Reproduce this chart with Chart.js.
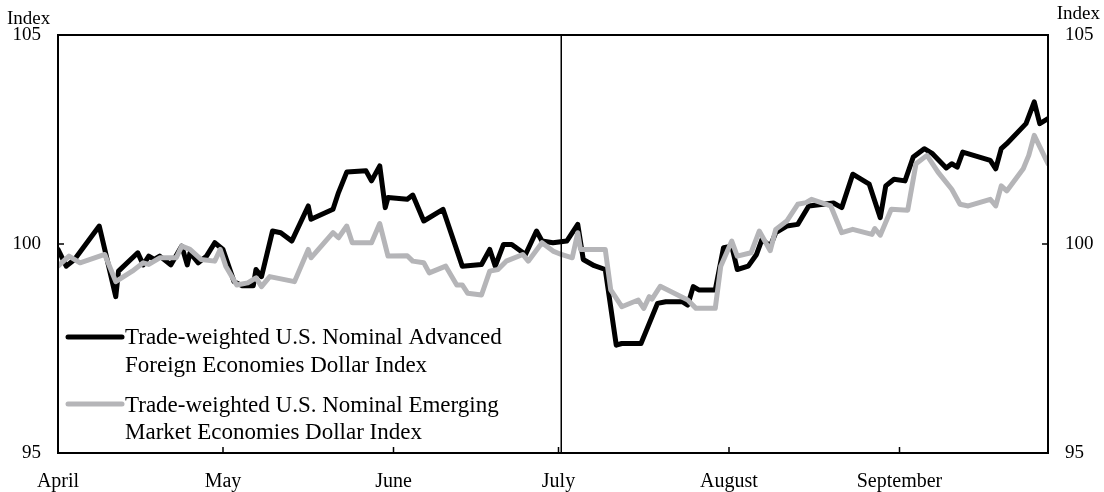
<!DOCTYPE html>
<html>
<head>
<meta charset="utf-8">
<script src="https://cdn.jsdelivr.net/npm/chart.js@4.4.1/dist/chart.umd.min.js"></script>
<style>
  html, body { margin: 0; padding: 0; background: #fff; }
  canvas { display: block; }
</style>
</head>
<body>
<canvas id="dollarChart" width="1104" height="492"></canvas>
<script>
// Month axis: day offsets from April 1 where each month starts
const monthLabels = ['April', 'May', 'June', 'July', 'August', 'September'];
const monthStarts = [0, 30, 61, 91, 122, 153];
const julyMarkerDay = 91.5;

const seriesNames = [
  ['Trade-weighted U.S. Nominal Advanced', 'Foreign Economies Dollar Index'],
  ['Trade-weighted U.S. Nominal Emerging', 'Market Economies Dollar Index']
];

// Advanced foreign economies index (black)
const advDays = [0, 1.5, 3, 7.5, 8.5, 10.5, 11, 14.5, 15.5, 16.5, 17.5, 18.5, 20.5, 22.5, 23.5, 24, 25.5, 27, 28.5, 30,
  32, 33.5, 35.5, 36, 37, 39, 40.5, 42.5, 45.5, 46, 50, 51, 52.5, 56, 57, 58.5, 59.5, 60, 63.5, 64.5,
  66.5, 70, 73.5, 77, 78.5, 79.5, 81, 82.5, 85, 87, 88, 90, 92.5, 94.5, 95.5, 97.5, 99.5, 101.5, 102.5, 106,
  109, 110.5, 113.5, 114.5, 115.5, 116.5, 119.5, 121, 122.5, 123.5, 125.5, 127, 128, 129.5, 130.5, 132.5, 134.5, 136.5, 141, 142.5,
  144.5, 147.5, 148.5, 149.5, 150.5, 152, 154, 155.5, 157.5, 159, 161.5, 162.5, 163.5, 164.5, 169.5, 170.5, 171.5, 172.5, 176, 177.5,
  178.5, 180];
const advValues = [99.87, 99.47, 99.63, 100.43, 99.87, 98.74, 99.35, 99.79, 99.50, 99.71, 99.63, 99.71, 99.50, 99.95, 99.50, 99.79, 99.55, 99.71, 100.03, 99.87,
  99.10, 99.00, 99.00, 99.39, 99.22, 100.31, 100.27, 100.07, 100.91, 100.59, 100.83, 101.23, 101.72, 101.75, 101.51, 101.87, 100.87, 101.11, 101.07, 101.17,
  100.55, 100.83, 99.47, 99.51, 99.87, 99.47, 99.99, 99.99, 99.75, 100.31, 100.07, 100.03, 100.07, 100.47, 99.63, 99.48, 99.39, 97.58, 97.62, 97.62,
  98.58, 98.62, 98.62, 98.54, 98.98, 98.90, 98.90, 99.91, 99.95, 99.39, 99.47, 99.75, 100.11, 99.95, 100.27, 100.43, 100.47, 100.91, 100.98, 100.87,
  101.67, 101.43, 101.03, 100.63, 101.39, 101.55, 101.51, 102.08, 102.28, 102.16, 101.82, 101.92, 101.84, 102.20, 102.00, 101.80, 102.28, 102.40, 102.88, 103.40,
  102.88, 103.00];

// Emerging market economies index (gray)
const emeDays = [0, 2, 4, 8.5, 10.5, 13.5, 15.5, 16.5, 18.5, 21.5, 22.5, 24, 26, 28.5, 29.5, 30.5, 32.5, 34.5, 36, 37,
  38.5, 43, 45.5, 46, 50, 51, 52.5, 53.5, 57, 58.5, 60, 63.5, 64.5, 66.5, 67.5, 70.5, 72.5, 73.5, 74.5, 77,
  78.5, 80, 81.5, 84.5, 85.5, 88, 90, 91.5, 93.5, 94.5, 95, 99.5, 100.5, 102.5, 105.5, 106.5, 107.5, 108, 109.5, 114.5,
  116, 119.5, 120.5, 122.5, 123.5, 126, 127.5, 129.5, 130.5, 132.5, 134.5, 136, 137, 140.5, 142.5, 144.5, 148, 148.5, 149.5, 151.5,
  154.5, 156, 158, 160, 162.5, 164, 165.5, 169.5, 170.5, 171.5, 172.5, 175.5, 176.5, 177.5, 180];
const emeValues = [99.47, 99.71, 99.55, 99.75, 99.10, 99.35, 99.55, 99.51, 99.67, 99.67, 99.95, 99.87, 99.63, 99.59, 99.87, 99.47, 99.02, 99.07, 99.19, 98.98,
  99.22, 99.10, 99.87, 99.67, 100.27, 100.15, 100.43, 100.03, 100.03, 100.49, 99.71, 99.72, 99.59, 99.55, 99.31, 99.47, 99.02, 99.02, 98.82, 98.78,
  99.35, 99.39, 99.59, 99.75, 99.59, 100.03, 99.83, 99.75, 99.67, 100.27, 99.87, 99.87, 98.90, 98.50, 98.66, 98.46, 98.74, 98.68, 98.99, 98.66,
  98.46, 98.46, 99.47, 100.07, 99.71, 99.79, 100.31, 99.84, 100.35, 100.55, 100.95, 100.99, 101.07, 100.91, 100.27, 100.35, 100.23, 100.37, 100.21, 100.83,
  100.81, 101.92, 102.12, 101.72, 101.31, 100.95, 100.91, 101.07, 100.91, 101.39, 101.27, 101.80, 102.12, 102.60, 101.92];

const FONT = 'Liberation Serif';
const BLACK = '#000000';
const GRAY = '#b5b5b8';

// Frame, inner tick marks, July marker, "Index" labels and the two-line legend
const decorPlugin = {
  id: 'decor',
  afterDatasetsDraw(chart) {
    const { ctx, chartArea: a, scales } = chart;
    ctx.save();
    ctx.strokeStyle = '#000';
    ctx.lineWidth = 1.5;
    const mx = scales.x.getPixelForValue(julyMarkerDay);
    ctx.beginPath();
    ctx.moveTo(mx, a.top);
    ctx.lineTo(mx, a.bottom);
    ctx.stroke();

    ctx.lineWidth = 2;
    ctx.strokeRect(a.left, a.top, a.right - a.left, a.bottom - a.top);
    ctx.lineWidth = 1.5;
    ctx.beginPath();
    monthStarts.forEach(d => {
      const px = scales.x.getPixelForValue(d);
      ctx.moveTo(px, a.bottom);
      ctx.lineTo(px, a.bottom - 6);
    });
    const py = scales.y.getPixelForValue(100);
    ctx.moveTo(a.left, py); ctx.lineTo(a.left + 6, py);
    ctx.moveTo(a.right, py); ctx.lineTo(a.right - 6, py);
    ctx.stroke();

    ctx.fillStyle = '#000';
    ctx.font = `19px "${FONT}"`;
    ctx.textBaseline = 'alphabetic';
    ctx.textAlign = 'left';
    ctx.fillText('Index', 7, 24);
    ctx.textAlign = 'right';
    ctx.fillText('Index', 1100, 19);

    // legend
    const colors = [BLACK, GRAY];
    const rows = [[337, 344, 372], [404, 412, 439]];
    ctx.font = `23px "${FONT}"`;
    ctx.textAlign = 'left';
    ctx.lineCap = 'round';
    seriesNames.forEach((lines, i) => {
      const [ly, b1, b2] = rows[i];
      ctx.strokeStyle = colors[i];
      ctx.lineWidth = 5;
      ctx.beginPath();
      ctx.moveTo(a.left + 10, ly);
      ctx.lineTo(a.left + 64, ly);
      ctx.stroke();
      ctx.fillText(lines[0], a.left + 67, b1);
      ctx.fillText(lines[1], a.left + 67, b2);
    });
    ctx.restore();
  }
};

const toPoints = (days, values) => days.map((d, i) => ({ x: d, y: values[i] }));

new Chart(document.getElementById('dollarChart'), {
  type: 'line',
  data: {
    datasets: [{
      label: seriesNames[0].join(' '),
      data: toPoints(advDays, advValues),
      borderColor: BLACK,
      borderWidth: 5,
      pointRadius: 0,
      tension: 0,
      order: 1
    }, {
      label: seriesNames[1].join(' '),
      data: toPoints(emeDays, emeValues),
      borderColor: GRAY,
      borderWidth: 5,
      pointRadius: 0,
      tension: 0,
      order: 0
    }]
  },
  options: {
    responsive: false,
    animation: false,
    devicePixelRatio: 1,
    layout: { padding: { top: 35, left: 0, right: 0, bottom: 0 } },
    elements: { line: { borderJoinStyle: 'round', borderCapStyle: 'round' } },
    plugins: { legend: { display: false }, tooltip: { enabled: false } },
    scales: {
      x: {
        type: 'linear',
        min: 0,
        max: 180,
        afterBuildTicks: (scale) => { scale.ticks = monthStarts.map(v => ({ value: v })); },
        afterFit: (scale) => { scale.height = 39; },
        grid: { display: false, drawTicks: false },
        border: { display: false },
        ticks: {
          autoSkip: false,
          maxRotation: 0,
          padding: 17,
          color: '#000',
          font: { family: FONT, size: 20 },
          callback: (v) => monthLabels[monthStarts.indexOf(v)]
        }
      },
      y: {
        position: 'left',
        min: 95,
        max: 105,
        afterFit: (scale) => { scale.width = 58; },
        grid: { display: false, drawTicks: false },
        border: { display: false },
        ticks: { stepSize: 5, padding: 17, color: '#000', font: { family: FONT, size: 19 } }
      },
      y2: {
        position: 'right',
        min: 95,
        max: 105,
        afterFit: (scale) => { scale.width = 56; },
        grid: { display: false, drawTicks: false },
        border: { display: false },
        ticks: { stepSize: 5, padding: 17, color: '#000', font: { family: FONT, size: 19 } }
      }
    }
  },
  plugins: [decorPlugin]
});
</script>
</body>
</html>
